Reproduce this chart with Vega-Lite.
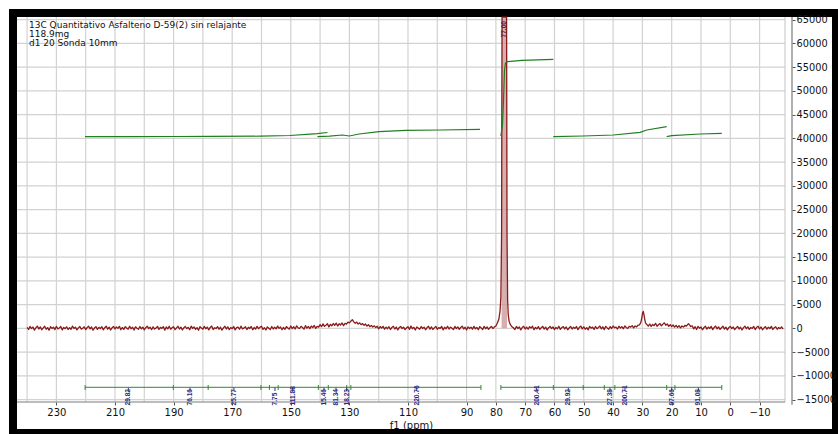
{
  "$schema": "https://vega.github.io/schema/vega-lite/v6.json",
  "width": 823,
  "height": 420,
  "autosize": {"type": "none"},
  "padding": {"left": 13, "top": 13, "right": 2, "bottom": 1},
  "background": "white",
  "config": {
    "view": {"stroke": "black", "strokeWidth": 8, "fill": "white"},
    "font": "DejaVu Sans",
    "axis": {
      "domain": false,
      "grid": false,
      "labelOverlap": false,
      "labelFlush": false,
      "labelFont": "DejaVu Sans",
      "labelColor": "#111111",
      "tickSize": 3,
      "tickColor": "#555555",
      "titleFont": "DejaVu Sans",
      "titleFontWeight": "normal",
      "titleColor": "#111111"
    },
    "axisX": {"labelFontSize": 10, "labelPadding": 2.5, "titleFontSize": 10, "titleAlign": "center", "titleBaseline": "top"},
    "axisY": {"labelFontSize": 9.8, "labelAlign": "left", "labelBaseline": "middle", "labelPadding": 1}
  },
  "title": {
    "text": ["13C Quantitativo Asfalteno D-59(2) sin relajante", "118.9mg", "d1 20 Sonda 10mm"],
    "anchor": "start",
    "frame": "group",
    "orient": "top",
    "offset": -35.5,
    "dx": 16,
    "font": "DejaVu Sans",
    "fontSize": 9,
    "fontWeight": "normal",
    "lineHeight": 9.2,
    "color": "#111111"
  },
  "datasets": {
    "spectrum": [
      {"p":240,"v":180},{"p":239.5,"v":-240},{"p":239,"v":390},{"p":238.5,"v":-60},{"p":238,"v":260},{"p":237.5,"v":-380},{"p":237,"v":120},{"p":236.5,"v":450},{"p":236,"v":-150},{"p":235.5,"v":300},
      {"p":235,"v":-310},{"p":234.5,"v":80},{"p":234,"v":420},{"p":233.5,"v":-200},{"p":233,"v":150},{"p":232.5,"v":-420},{"p":232,"v":340},{"p":231.5,"v":-30},{"p":231,"v":230},{"p":230.5,"v":-270},
      {"p":230,"v":410},{"p":229.5,"v":-120},{"p":229,"v":60},{"p":228.5,"v":370},{"p":228,"v":-350},{"p":227.5,"v":190},{"p":227,"v":-80},{"p":226.5,"v":320},{"p":226,"v":-260},{"p":225.5,"v":140},
      {"p":225,"v":-190},{"p":224.5,"v":470},{"p":224,"v":-40},{"p":223.5,"v":250},{"p":223,"v":-330},{"p":222.5,"v":90},{"p":222,"v":380},{"p":221.5,"v":-170},{"p":221,"v":20},{"p":220.5,"v":310},
      {"p":220,"v":-280},{"p":219.5,"v":160},{"p":219,"v":430},{"p":218.5,"v":-110},{"p":218,"v":270},{"p":217.5,"v":-400},{"p":217,"v":50},{"p":216.5,"v":360},{"p":216,"v":-230},{"p":215.5,"v":200},
      {"p":215,"v":-60},{"p":214.5,"v":340},{"p":214,"v":-320},{"p":213.5,"v":130},{"p":213,"v":460},{"p":212.5,"v":-190},{"p":212,"v":240},{"p":211.5,"v":-360},{"p":211,"v":100},{"p":210.5,"v":390},
      {"p":210,"v":-140},{"p":209.5,"v":280},{"p":209,"v":-20},{"p":208.5,"v":410},{"p":208,"v":-300},{"p":207.5,"v":170},{"p":207,"v":-250},{"p":206.5,"v":350},{"p":206,"v":40},{"p":205.5,"v":-180},
      {"p":205,"v":440},{"p":204.5,"v":-90},{"p":204,"v":210},{"p":203.5,"v":-370},{"p":203,"v":310},{"p":202.5,"v":0},{"p":202,"v":-210},{"p":201.5,"v":380},{"p":201,"v":-130},{"p":200.5,"v":260},
      {"p":200,"v":-340},{"p":199.5,"v":120},{"p":199,"v":460},{"p":198.5,"v":-60},{"p":198,"v":230},{"p":197.5,"v":-290},{"p":197,"v":330},{"p":196.5,"v":-160},{"p":196,"v":70},{"p":195.5,"v":400},
      {"p":195,"v":-240},{"p":194.5,"v":190},{"p":194,"v":-10},{"p":193.5,"v":360},{"p":193,"v":-390},{"p":192.5,"v":270},{"p":192,"v":-120},{"p":191.5,"v":430},{"p":191,"v":-200},{"p":190.5,"v":150},
      {"p":190,"v":320},{"p":189.5,"v":-280},{"p":189,"v":80},{"p":188.5,"v":420},{"p":188,"v":-150},{"p":187.5,"v":240},{"p":187,"v":-350},{"p":186.5,"v":110},{"p":186,"v":380},{"p":185.5,"v":-70},
      {"p":185,"v":200},{"p":184.5,"v":-310},{"p":184,"v":450},{"p":183.5,"v":-30},{"p":183,"v":290},{"p":182.5,"v":-230},{"p":182,"v":150},{"p":181.5,"v":-410},{"p":181,"v":340},{"p":180.5,"v":60},
      {"p":180,"v":-180},{"p":179.5,"v":400},{"p":179,"v":-100},{"p":178.5,"v":260},{"p":178,"v":-340},{"p":177.5,"v":180},{"p":177,"v":470},{"p":176.5,"v":-260},{"p":176,"v":120},{"p":175.5,"v":-50},
      {"p":175,"v":350},{"p":174.5,"v":-210},{"p":174,"v":230},{"p":173.5,"v":-380},{"p":173,"v":90},{"p":172.5,"v":420},{"p":172,"v":-140},{"p":171.5,"v":310},{"p":171,"v":-290},{"p":170.5,"v":170},
      {"p":170,"v":-70},{"p":169.5,"v":380},{"p":169,"v":-330},{"p":168.5,"v":140},{"p":168,"v":260},{"p":167.5,"v":-200},{"p":167,"v":450},{"p":166.5,"v":-120},{"p":166,"v":30},{"p":165.5,"v":330},
      {"p":165,"v":-260},{"p":164.5,"v":210},{"p":164,"v":-40},{"p":163.5,"v":390},{"p":163,"v":-310},{"p":162.5,"v":160},{"p":162,"v":-180},{"p":161.5,"v":420},{"p":161,"v":-90},{"p":160.5,"v":250},
      {"p":160,"v":440},{"p":159.5,"v":-230},{"p":159,"v":120},{"p":158.5,"v":-360},{"p":158,"v":300},{"p":157.5,"v":20},{"p":157,"v":-270},{"p":156.5,"v":370},{"p":156,"v":-150},{"p":155.5,"v":230},
      {"p":155,"v":-120},{"p":154.5,"v":460},{"p":154,"v":-20},{"p":153.5,"v":280},{"p":153,"v":-300},{"p":152.5,"v":190},{"p":152,"v":-220},{"p":151.5,"v":360},{"p":151,"v":60},{"p":150.5,"v":-170},
      {"p":150,"v":480},{"p":149.5,"v":-60},{"p":149,"v":330},{"p":148.5,"v":-150},{"p":148,"v":520},{"p":147.5,"v":90},{"p":147,"v":-40},{"p":146.5,"v":410},{"p":146,"v":160},{"p":145.5,"v":-180},
      {"p":145,"v":560},{"p":144.5,"v":20},{"p":144,"v":390},{"p":143.5,"v":-80},{"p":143,"v":470},{"p":142.5,"v":150},{"p":142,"v":600},{"p":141.5,"v":-10},{"p":141,"v":420},{"p":140.5,"v":240},
      {"p":140,"v":780},{"p":139.5,"v":340},{"p":139,"v":920},{"p":138.5,"v":410},{"p":138,"v":650},{"p":137.5,"v":980},{"p":137,"v":300},{"p":136.5,"v":840},{"p":136,"v":520},{"p":135.5,"v":1010},
      {"p":135,"v":620},{"p":134.5,"v":1090},{"p":134,"v":480},{"p":133.5,"v":950},{"p":133,"v":700},{"p":132.5,"v":1130},{"p":132,"v":560},{"p":131.5,"v":1020},{"p":131,"v":880},{"p":130.5,"v":1300},
      {"p":130,"v":1150},{"p":129.5,"v":1500},{"p":129,"v":1820},{"p":128.5,"v":1350},{"p":128,"v":1050},{"p":127.5,"v":1300},{"p":127,"v":880},{"p":126.5,"v":1150},{"p":126,"v":760},{"p":125.5,"v":980},
      {"p":125,"v":620},{"p":124.5,"v":900},{"p":124,"v":450},{"p":123.5,"v":760},{"p":123,"v":330},{"p":122.5,"v":620},{"p":122,"v":280},{"p":121.5,"v":520},{"p":121,"v":150},{"p":120.5,"v":430},
      {"p":120,"v":-120},{"p":119.5,"v":360},{"p":119,"v":60},{"p":118.5,"v":410},{"p":118,"v":-200},{"p":117.5,"v":250},{"p":117,"v":-90},{"p":116.5,"v":330},{"p":116,"v":-260},{"p":115.5,"v":180},
      {"p":115,"v":420},{"p":114.5,"v":-150},{"p":114,"v":270},{"p":113.5,"v":-330},{"p":113,"v":140},{"p":112.5,"v":380},{"p":112,"v":-60},{"p":111.5,"v":240},{"p":111,"v":-290},{"p":110.5,"v":90},
      {"p":110,"v":330},{"p":109.5,"v":-230},{"p":109,"v":460},{"p":108.5,"v":-80},{"p":108,"v":200},{"p":107.5,"v":-360},{"p":107,"v":290},{"p":106.5,"v":40},{"p":106,"v":-190},{"p":105.5,"v":370},
      {"p":105,"v":-40},{"p":104.5,"v":250},{"p":104,"v":-310},{"p":103.5,"v":160},{"p":103,"v":430},{"p":102.5,"v":-170},{"p":102,"v":310},{"p":101.5,"v":-250},{"p":101,"v":80},{"p":100.5,"v":400},
      {"p":100,"v":-210},{"p":99.5,"v":150},{"p":99,"v":-20},{"p":98.5,"v":380},{"p":98,"v":-330},{"p":97.5,"v":220},{"p":97,"v":-100},{"p":96.5,"v":440},{"p":96,"v":-160},{"p":95.5,"v":260},
      {"p":95,"v":30},{"p":94.5,"v":-280},{"p":94,"v":390},{"p":93.5,"v":-70},{"p":93,"v":300},{"p":92.5,"v":-240},{"p":92,"v":170},{"p":91.5,"v":460},{"p":91,"v":-140},{"p":90.5,"v":220},
      {"p":90,"v":-350},{"p":89.5,"v":310},{"p":89,"v":-30},{"p":88.5,"v":240},{"p":88,"v":-190},{"p":87.5,"v":410},{"p":87,"v":-110},{"p":86.5,"v":190},{"p":86,"v":-300},{"p":85.5,"v":350},
      {"p":85,"v":60},{"p":84.5,"v":-250},{"p":84,"v":420},{"p":83.5,"v":-90},{"p":83,"v":280},{"p":82.5,"v":-210},{"p":82,"v":140},{"p":81.5,"v":380},{"p":81,"v":-60},{"p":80.5,"v":300},
      {"p":80,"v":500},{"p":79.5,"v":1100},{"p":79,"v":1900},{"p":78.6,"v":3500},{"p":78.3,"v":6500},{"p":78.05,"v":20000},{"p":77.9,"v":65500},{"p":76.35,"v":65500},{"p":76.2,"v":20000},{"p":76,"v":6000},{"p":75.8,"v":3000},{"p":75.5,"v":1500},{"p":75,"v":700},{"p":74.5,"v":300},
      {"p":74,"v":120},{"p":73.5,"v":-260},{"p":73,"v":380},{"p":72.5,"v":-40},{"p":72,"v":290},{"p":71.5,"v":-330},{"p":71,"v":170},{"p":70.5,"v":420},{"p":70,"v":-150},{"p":69.5,"v":260},
      {"p":69,"v":-200},{"p":68.5,"v":340},{"p":68,"v":40},{"p":67.5,"v":450},{"p":67,"v":-280},{"p":66.5,"v":200},{"p":66,"v":-110},{"p":65.5,"v":360},{"p":65,"v":-240},{"p":64.5,"v":130},
      {"p":64,"v":410},{"p":63.5,"v":-170},{"p":63,"v":250},{"p":62.5,"v":-350},{"p":62,"v":120},{"p":61.5,"v":390},{"p":61,"v":-60},{"p":60.5,"v":300},{"p":60,"v":-270},{"p":59.5,"v":180},
      {"p":59,"v":-90},{"p":58.5,"v":430},{"p":58,"v":-230},{"p":57.5,"v":160},{"p":57,"v":360},{"p":56.5,"v":-140},{"p":56,"v":280},{"p":55.5,"v":-310},{"p":55,"v":70},{"p":54.5,"v":400},
      {"p":54,"v":-160},{"p":53.5,"v":240},{"p":53,"v":-20},{"p":52.5,"v":370},{"p":52,"v":-290},{"p":51.5,"v":210},{"p":51,"v":460},{"p":50.5,"v":-120},{"p":50,"v":310},{"p":49.5,"v":-200},
      {"p":49,"v":150},{"p":48.5,"v":-330},{"p":48,"v":420},{"p":47.5,"v":30},{"p":47,"v":260},{"p":46.5,"v":-240},{"p":46,"v":380},{"p":45.5,"v":-80},{"p":45,"v":190},{"p":44.5,"v":470},
      {"p":44,"v":-130},{"p":43.5,"v":300},{"p":43,"v":-270},{"p":42.5,"v":410},{"p":42,"v":80},{"p":41.5,"v":-190},{"p":41,"v":350},{"p":40.5,"v":-40},{"p":40,"v":480},{"p":39.5,"v":120},
      {"p":39,"v":260},{"p":38.5,"v":-160},{"p":38,"v":440},{"p":37.5,"v":60},{"p":37,"v":330},{"p":36.5,"v":-110},{"p":36,"v":500},{"p":35.5,"v":180},{"p":35,"v":-40},{"p":34.5,"v":420},
      {"p":34,"v":240},{"p":33.5,"v":560},{"p":33,"v":90},{"p":32.5,"v":480},{"p":32,"v":310},{"p":31.5,"v":650},
      {"p":31,"v":700},{"p":30.5,"v":1300},{"p":30.2,"v":2200},{"p":29.9,"v":3300},{"p":29.7,"v":3550},{"p":29.5,"v":3000},{"p":29.2,"v":1900},{"p":28.9,"v":1100},{"p":28.5,"v":820},
      {"p":28,"v":450},{"p":27.5,"v":900},{"p":27,"v":380},{"p":26.5,"v":820},{"p":26,"v":560},{"p":25.5,"v":1050},{"p":25,"v":420},{"p":24.5,"v":760},{"p":24,"v":980},{"p":23.5,"v":500},
      {"p":23,"v":880},{"p":22.5,"v":1150},{"p":22,"v":640},{"p":21.5,"v":930},{"p":21,"v":410},{"p":20.5,"v":780},{"p":20,"v":350},{"p":19.5,"v":690},{"p":19,"v":240},{"p":18.5,"v":620},
      {"p":18,"v":180},{"p":17.5,"v":550},{"p":17,"v":90},{"p":16.5,"v":480},{"p":16,"v":260},{"p":15.5,"v":600},
      {"p":15,"v":450},{"p":14.5,"v":820},{"p":14.2,"v":950},{"p":14,"v":760},{"p":13.5,"v":380},
      {"p":13,"v":520},{"p":12.5,"v":-120},{"p":12,"v":330},{"p":11.5,"v":-260},{"p":11,"v":410},{"p":10.5,"v":20},{"p":10,"v":290},{"p":9.5,"v":-310},{"p":9,"v":160},{"p":8.5,"v":440},
      {"p":8,"v":-170},{"p":7.5,"v":260},{"p":7,"v":-40},{"p":6.5,"v":380},{"p":6,"v":-280},{"p":5.5,"v":190},{"p":5,"v":470},{"p":4.5,"v":-110},{"p":4,"v":300},{"p":3.5,"v":-230},
      {"p":3,"v":120},{"p":2.5,"v":420},{"p":2,"v":-180},{"p":1.5,"v":250},{"p":1,"v":-330},{"p":0.5,"v":160},{"p":0,"v":390},{"p":-0.5,"v":-60},{"p":-1,"v":270},{"p":-1.5,"v":-290},
      {"p":-2,"v":80},{"p":-2.5,"v":410},{"p":-3,"v":-150},{"p":-3.5,"v":230},{"p":-4,"v":-360},{"p":-4.5,"v":140},{"p":-5,"v":450},{"p":-5.5,"v":-90},{"p":-6,"v":310},{"p":-6.5,"v":-220},
      {"p":-7,"v":170},{"p":-7.5,"v":-30},{"p":-8,"v":380},{"p":-8.5,"v":-270},{"p":-9,"v":200},{"p":-9.5,"v":440},{"p":-10,"v":-140},{"p":-10.5,"v":280},{"p":-11,"v":-320},{"p":-11.5,"v":90},
      {"p":-12,"v":360},{"p":-12.5,"v":-190},{"p":-13,"v":240},{"p":-13.5,"v":-50},{"p":-14,"v":410},{"p":-14.5,"v":-250},{"p":-15,"v":130},{"p":-15.5,"v":330},{"p":-16,"v":-210},{"p":-16.5,"v":180},
      {"p":-17,"v":-80},{"p":-17.5,"v":300},{"p":-18,"v":-160}
    ],
    "integral": [
      {"seg":1,"p":220.24,"v":40337},{"seg":1,"p":205.0,"v":40358},{"seg":1,"p":189.6,"v":40379},{"seg":1,"p":177.6,"v":40400},{"seg":1,"p":160.3,"v":40442},{"seg":1,"p":150.3,"v":40589},{"seg":1,"p":143.5,"v":40863},{"seg":1,"p":140.9,"v":40989},{"seg":1,"p":137.5,"v":41221},
      {"seg":2,"p":140.9,"v":40337},{"seg":2,"p":136.8,"v":40442},{"seg":2,"p":132.4,"v":40695},{"seg":2,"p":130.0,"v":40484},{"seg":2,"p":126.7,"v":40905},{"seg":2,"p":119.9,"v":41389},{"seg":2,"p":110.7,"v":41684},{"seg":2,"p":99.1,"v":41747},{"seg":2,"p":85.4,"v":41895},
      {"seg":3,"p":78.3,"v":40484},{"seg":3,"p":77.75,"v":42800},{"seg":3,"p":77.4,"v":48063},{"seg":3,"p":77.06,"v":54379},{"seg":3,"p":76.72,"v":55853},{"seg":3,"p":76.1,"v":56126},{"seg":3,"p":71.2,"v":56421},{"seg":3,"p":60.4,"v":56632},
      {"seg":4,"p":60.4,"v":40337},{"seg":4,"p":50.2,"v":40484},{"seg":4,"p":39.9,"v":40695},{"seg":4,"p":30.8,"v":41263},{"seg":4,"p":28.5,"v":41747},{"seg":4,"p":21.7,"v":42442},
      {"seg":5,"p":21.7,"v":40337},{"seg":5,"p":20.0,"v":40547},{"seg":5,"p":10.3,"v":40905},{"seg":5,"p":2.9,"v":41053}
    ],
    "ranges": [
      {"from":220.2,"to":85.1},
      {"from":78.3,"to":2.9}
    ],
    "limits": [
      {"p":220.2},{"p":190.1},{"p":178.2},{"p":160.2},{"p":157.3},{"p":154.3},{"p":140.6},{"p":137.2},{"p":130.9},{"p":129.5},
      {"p":85.1},{"p":78.3},{"p":60.4},{"p":50.2},{"p":43.0},{"p":39.4},{"p":21.7},{"p":18.9},{"p":2.9}
    ],
    "integrals": [
      {"p":205.45,"label":"29.82"},{"p":184.4,"label":"76.16"},{"p":169.4,"label":"25.77"},{"p":155.4,"label":"7.75"},
      {"p":149.35,"label":"111.88"},{"p":138.67,"label":"15.46"},{"p":134.57,"label":"81.34"},{"p":130.92,"label":"18.23"},
      {"p":107.03,"label":"220.76"},{"p":66.08,"label":"200.41"},{"p":55.29,"label":"29.92"},{"p":41.06,"label":"27.38"},
      {"p":35.94,"label":"200.71"},{"p":20.0,"label":"97.66"},{"p":10.92,"label":"91.08"}
    ],
    "peaks": [
      {"p":77.24,"label":"77.00"}
    ],
    "ppmGrid": [
      {"p":240},{"p":230},{"p":220},{"p":210},{"p":200},{"p":190},{"p":180},{"p":170},{"p":160},{"p":150},{"p":140},{"p":130},{"p":120},
      {"p":110},{"p":100},{"p":90},{"p":80},{"p":70},{"p":60},{"p":50},{"p":40},{"p":30},{"p":20},{"p":10},{"p":0},{"p":-10}
    ],
    "intensityGrid": [
      {"v":-15000},{"v":-10000},{"v":-5000},{"v":0},{"v":5000},{"v":10000},{"v":15000},{"v":20000},{"v":25000},
      {"v":30000},{"v":35000},{"v":40000},{"v":45000},{"v":50000},{"v":55000},{"v":60000},{"v":65000}
    ]
  },
  "layer": [
    {
      "data": {"name": "ppmGrid"},
      "mark": {"type": "rule", "color": "#d2d2d2", "strokeWidth": 1.2},
      "encoding": {
        "x": {"field": "p", "type": "quantitative", "scale": {"domain": [-36.08, 244.81], "reverse": true, "nice": false, "zero": false},
              "axis": {"orient": "bottom", "offset": -31, "values": [230,210,190,170,150,130,110,90,80,70,60,50,40,30,20,10,0,-10], "format": "d", "labelOverlap": false, "title": "f1 (ppm)", "titleX": 398, "titleY": 18}},
        "y": {"datum": -15516, "type": "quantitative", "scale": {"domain": [-22042, 66379], "nice": false, "zero": false},
              "axis": {"orient": "right", "offset": -44, "values": [-15000,-10000,-5000,0,5000,10000,15000,20000,25000,30000,35000,40000,45000,50000,55000,60000,65000], "format": "d", "labelOverlap": false, "title": null}},
        "y2": {"datum": 65537}
      }
    },
    {
      "data": {"name": "intensityGrid"},
      "mark": {"type": "rule", "color": "#d2d2d2", "strokeWidth": 1.2},
      "encoding": {
        "x": {"datum": 243.45, "type": "quantitative", "scale": {"domain": [-36.08, 244.81], "reverse": true, "nice": false, "zero": false},
              "axis": {"orient": "bottom", "offset": -31, "values": [230,210,190,170,150,130,110,90,80,70,60,50,40,30,20,10,0,-10], "format": "d", "labelOverlap": false, "title": "f1 (ppm)", "titleX": 398, "titleY": 18}},
        "x2": {"datum": -18.67},
        "y": {"field": "v", "type": "quantitative", "scale": {"domain": [-22042, 66379], "nice": false, "zero": false},
              "axis": {"orient": "right", "offset": -44, "values": [-15000,-10000,-5000,0,5000,10000,15000,20000,25000,30000,35000,40000,45000,50000,55000,60000,65000], "format": "d", "labelOverlap": false, "title": null}}
      }
    },
    {
      "data": {"values": [{"edge": "right"}]},
      "mark": {"type": "rule", "color": "#c4c4c4", "strokeWidth": 1},
      "encoding": {
        "x": {"datum": -18.67, "type": "quantitative", "scale": {"domain": [-36.08, 244.81], "reverse": true, "nice": false, "zero": false},
              "axis": {"orient": "bottom", "offset": -31, "values": [230,210,190,170,150,130,110,90,80,70,60,50,40,30,20,10,0,-10], "format": "d", "labelOverlap": false, "title": "f1 (ppm)", "titleX": 398, "titleY": 18}},
        "y": {"datum": -15516, "type": "quantitative", "scale": {"domain": [-22042, 66379], "nice": false, "zero": false},
              "axis": {"orient": "right", "offset": -44, "values": [-15000,-10000,-5000,0,5000,10000,15000,20000,25000,30000,35000,40000,45000,50000,55000,60000,65000], "format": "d", "labelOverlap": false, "title": null}},
        "y2": {"datum": 65537}
      }
    },
    {
      "data": {"values": [{"edge": "bottom"}]},
      "mark": {"type": "rule", "color": "#7a7a7a", "strokeWidth": 1},
      "encoding": {
        "x": {"datum": 243.45, "type": "quantitative", "scale": {"domain": [-36.08, 244.81], "reverse": true, "nice": false, "zero": false},
              "axis": {"orient": "bottom", "offset": -31, "values": [230,210,190,170,150,130,110,90,80,70,60,50,40,30,20,10,0,-10], "format": "d", "labelOverlap": false, "title": "f1 (ppm)", "titleX": 398, "titleY": 18}},
        "x2": {"datum": -18.67},
        "y": {"datum": -15516, "type": "quantitative", "scale": {"domain": [-22042, 66379], "nice": false, "zero": false},
              "axis": {"orient": "right", "offset": -44, "values": [-15000,-10000,-5000,0,5000,10000,15000,20000,25000,30000,35000,40000,45000,50000,55000,60000,65000], "format": "d", "labelOverlap": false, "title": null}}
      }
    },
    {
      "data": {"values": [{"edge": "axis"}]},
      "mark": {"type": "rule", "color": "#7a7a7a", "strokeWidth": 1.2},
      "encoding": {
        "x": {"datum": -21.06, "type": "quantitative", "scale": {"domain": [-36.08, 244.81], "reverse": true, "nice": false, "zero": false},
              "axis": {"orient": "bottom", "offset": -31, "values": [230,210,190,170,150,130,110,90,80,70,60,50,40,30,20,10,0,-10], "format": "d", "labelOverlap": false, "title": "f1 (ppm)", "titleX": 398, "titleY": 18}},
        "y": {"datum": -16100, "type": "quantitative", "scale": {"domain": [-22042, 66379], "nice": false, "zero": false},
              "axis": {"orient": "right", "offset": -44, "values": [-15000,-10000,-5000,0,5000,10000,15000,20000,25000,30000,35000,40000,45000,50000,55000,60000,65000], "format": "d", "labelOverlap": false, "title": null}},
        "y2": {"datum": 65537}
      }
    },
    {
      "data": {"name": "ranges"},
      "mark": {"type": "rule", "color": "#2e8b2e", "strokeWidth": 1},
      "encoding": {
        "x": {"field": "from", "type": "quantitative", "scale": {"domain": [-36.08, 244.81], "reverse": true, "nice": false, "zero": false},
              "axis": {"orient": "bottom", "offset": -31, "values": [230,210,190,170,150,130,110,90,80,70,60,50,40,30,20,10,0,-10], "format": "d", "labelOverlap": false, "title": "f1 (ppm)", "titleX": 398, "titleY": 18}},
        "x2": {"field": "to"},
        "y": {"datum": -12421, "type": "quantitative", "scale": {"domain": [-22042, 66379], "nice": false, "zero": false},
              "axis": {"orient": "right", "offset": -44, "values": [-15000,-10000,-5000,0,5000,10000,15000,20000,25000,30000,35000,40000,45000,50000,55000,60000,65000], "format": "d", "labelOverlap": false, "title": null}}
      }
    },
    {
      "data": {"name": "limits"},
      "mark": {"type": "rule", "color": "#2e8b2e", "strokeWidth": 1},
      "encoding": {
        "x": {"field": "p", "type": "quantitative", "scale": {"domain": [-36.08, 244.81], "reverse": true, "nice": false, "zero": false},
              "axis": {"orient": "bottom", "offset": -31, "values": [230,210,190,170,150,130,110,90,80,70,60,50,40,30,20,10,0,-10], "format": "d", "labelOverlap": false, "title": "f1 (ppm)", "titleX": 398, "titleY": 18}},
        "y": {"datum": -11937, "type": "quantitative", "scale": {"domain": [-22042, 66379], "nice": false, "zero": false},
              "axis": {"orient": "right", "offset": -44, "values": [-15000,-10000,-5000,0,5000,10000,15000,20000,25000,30000,35000,40000,45000,50000,55000,60000,65000], "format": "d", "labelOverlap": false, "title": null}},
        "y2": {"datum": -12989}
      }
    },
    {
      "data": {"name": "integrals"},
      "mark": {"type": "rule", "color": "#2a2a80", "strokeWidth": 1},
      "encoding": {
        "x": {"field": "p", "type": "quantitative", "scale": {"domain": [-36.08, 244.81], "reverse": true, "nice": false, "zero": false},
              "axis": {"orient": "bottom", "offset": -31, "values": [230,210,190,170,150,130,110,90,80,70,60,50,40,30,20,10,0,-10], "format": "d", "labelOverlap": false, "title": "f1 (ppm)", "titleX": 398, "titleY": 18}},
        "y": {"datum": -12500, "type": "quantitative", "scale": {"domain": [-22042, 66379], "nice": false, "zero": false},
              "axis": {"orient": "right", "offset": -44, "values": [-15000,-10000,-5000,0,5000,10000,15000,20000,25000,30000,35000,40000,45000,50000,55000,60000,65000], "format": "d", "labelOverlap": false, "title": null}},
        "y2": {"datum": -13200}
      }
    },
    {
      "data": {"name": "integrals"},
      "mark": {"type": "text", "angle": 270, "align": "left", "baseline": "middle", "font": "Liberation Sans", "fontSize": 6.6, "fontWeight": "bold", "color": "#2a2a80"},
      "encoding": {
        "x": {"field": "p", "type": "quantitative", "scale": {"domain": [-36.08, 244.81], "reverse": true, "nice": false, "zero": false},
              "axis": {"orient": "bottom", "offset": -31, "values": [230,210,190,170,150,130,110,90,80,70,60,50,40,30,20,10,0,-10], "format": "d", "labelOverlap": false, "title": "f1 (ppm)", "titleX": 398, "titleY": 18}},
        "y": {"datum": -16253, "type": "quantitative", "scale": {"domain": [-22042, 66379], "nice": false, "zero": false},
              "axis": {"orient": "right", "offset": -44, "values": [-15000,-10000,-5000,0,5000,10000,15000,20000,25000,30000,35000,40000,45000,50000,55000,60000,65000], "format": "d", "labelOverlap": false, "title": null}},
        "text": {"field": "label"}
      }
    },
    {
      "data": {"name": "spectrum"},
      "transform": [{"filter": "datum.p < 78.2 && datum.p > 76.1"}],
      "mark": {"type": "area", "color": "#c99494", "opacity": 0.75},
      "encoding": {
        "x": {"field": "p", "type": "quantitative", "scale": {"domain": [-36.08, 244.81], "reverse": true, "nice": false, "zero": false},
              "axis": {"orient": "bottom", "offset": -31, "values": [230,210,190,170,150,130,110,90,80,70,60,50,40,30,20,10,0,-10], "format": "d", "labelOverlap": false, "title": "f1 (ppm)", "titleX": 398, "titleY": 18}},
        "y": {"field": "v", "type": "quantitative", "scale": {"domain": [-22042, 66379], "nice": false, "zero": false},
              "axis": {"orient": "right", "offset": -44, "values": [-15000,-10000,-5000,0,5000,10000,15000,20000,25000,30000,35000,40000,45000,50000,55000,60000,65000], "format": "d", "labelOverlap": false, "title": null}}
      }
    },
    {
      "data": {"name": "spectrum"},
      "mark": {"type": "line", "color": "#8b1a1a", "strokeWidth": 1.3, "strokeJoin": "round"},
      "encoding": {
        "x": {"field": "p", "type": "quantitative", "scale": {"domain": [-36.08, 244.81], "reverse": true, "nice": false, "zero": false},
              "axis": {"orient": "bottom", "offset": -31, "values": [230,210,190,170,150,130,110,90,80,70,60,50,40,30,20,10,0,-10], "format": "d", "labelOverlap": false, "title": "f1 (ppm)", "titleX": 398, "titleY": 18}},
        "y": {"field": "v", "type": "quantitative", "scale": {"domain": [-22042, 66379], "nice": false, "zero": false},
              "axis": {"orient": "right", "offset": -44, "values": [-15000,-10000,-5000,0,5000,10000,15000,20000,25000,30000,35000,40000,45000,50000,55000,60000,65000], "format": "d", "labelOverlap": false, "title": null}},
        "order": {"field": "p", "sort": "descending"}
      }
    },
    {
      "data": {"name": "integral"},
      "mark": {"type": "line", "color": "#1f7f1f", "strokeWidth": 1.2},
      "encoding": {
        "x": {"field": "p", "type": "quantitative", "scale": {"domain": [-36.08, 244.81], "reverse": true, "nice": false, "zero": false},
              "axis": {"orient": "bottom", "offset": -31, "values": [230,210,190,170,150,130,110,90,80,70,60,50,40,30,20,10,0,-10], "format": "d", "labelOverlap": false, "title": "f1 (ppm)", "titleX": 398, "titleY": 18}},
        "y": {"field": "v", "type": "quantitative", "scale": {"domain": [-22042, 66379], "nice": false, "zero": false},
              "axis": {"orient": "right", "offset": -44, "values": [-15000,-10000,-5000,0,5000,10000,15000,20000,25000,30000,35000,40000,45000,50000,55000,60000,65000], "format": "d", "labelOverlap": false, "title": null}},
        "detail": {"field": "seg"},
        "order": {"field": "p", "sort": "descending"}
      }
    },
    {
      "data": {"name": "peaks"},
      "mark": {"type": "text", "angle": 270, "align": "left", "baseline": "middle", "font": "Liberation Sans", "fontSize": 6.6, "fontWeight": "bold", "color": "#2a2a80"},
      "encoding": {
        "x": {"field": "p", "type": "quantitative", "scale": {"domain": [-36.08, 244.81], "reverse": true, "nice": false, "zero": false},
              "axis": {"orient": "bottom", "offset": -31, "values": [230,210,190,170,150,130,110,90,80,70,60,50,40,30,20,10,0,-10], "format": "d", "labelOverlap": false, "title": "f1 (ppm)", "titleX": 398, "titleY": 18}},
        "y": {"datum": 61221, "type": "quantitative", "scale": {"domain": [-22042, 66379], "nice": false, "zero": false},
              "axis": {"orient": "right", "offset": -44, "values": [-15000,-10000,-5000,0,5000,10000,15000,20000,25000,30000,35000,40000,45000,50000,55000,60000,65000], "format": "d", "labelOverlap": false, "title": null}},
        "text": {"field": "label"}
      }
    }
  ]
}
